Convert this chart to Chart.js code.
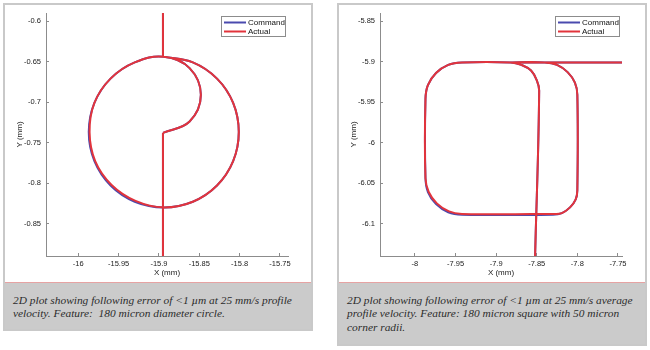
<!DOCTYPE html>
<html lang="en">
<head>
<meta charset="UTF-8">
<title>Following error</title>
<script src="https://cdn.jsdelivr.net/npm/chart.js"></script>
<style>
    body {
        margin: 0;
        width: 650px;
        height: 350px;
        position: relative;
        overflow: hidden;
        background: #fff;
    }
    .panel {
        position: absolute;
        top: 3px;
        width: 310px;
        box-sizing: border-box;
        border: 2px solid #c9c9c9;
        background: #fff;
    }
    #panelLeft { left: 3px; height: 328px; }
    #panelRight { left: 337px; height: 343px; }
    .caption {
        position: absolute;
        left: 0;
        right: 0;
        top: 277px;
        bottom: 0;
        background: #cbcbcb;
        border-top: 1px solid #e6a3a3;
        padding: 11px 0 0 8px;
        font: italic 11.4px/13.3px "Liberation Serif", "Times New Roman", serif;
        color: #2b2b2b;
        white-space: nowrap;
    }
    canvas { position: absolute; top: 0; }
    #chartLeft { left: 0; }
    #chartRight { left: 334px; }
</style>
</head>
<body>
<div class="panel" id="panelLeft">
    <div class="caption">2D plot showing following error of &lt;1 µm at 25 mm/s profile<br>velocity. Feature:&nbsp; 180 micron diameter circle.</div>
</div>
<div class="panel" id="panelRight">
    <div class="caption">2D plot showing following error of &lt;1 µm at 25 mm/s average<br>profile velocity. Feature: 180 micron square with 50 micron<br>corner radii.</div>
</div>
<canvas id="chartLeft" width="320" height="282"></canvas>
<canvas id="chartRight" width="320" height="282"></canvas>
<script>
    // circle feature: lead-in line, approach arc, full circle, lead-out line (x, y in mm)
    // null splits the path so the corners stay sharp
    const circleCommand = [
        [-15.895, -0.890], [-15.895, -0.738], null,
        [-15.895, -0.738], [-15.862, -0.724], [-15.848, -0.691], [-15.862, -0.658],
        [-15.894, -0.644], [-15.930, -0.651], [-15.960, -0.671], [-15.980, -0.701],
        [-15.987, -0.737], [-15.980, -0.773], [-15.960, -0.803], [-15.930, -0.823],
        [-15.894, -0.830], [-15.858, -0.823], [-15.828, -0.803], [-15.808, -0.773],
        [-15.801, -0.737], [-15.808, -0.701], [-15.828, -0.671], [-15.858, -0.651],
        [-15.894, -0.644], null,
        [-15.895, -0.644], [-15.895, -0.590]
    ];
    const circleActual = [
        [-15.895, -0.890], [-15.895, -0.738], null,
        [-15.895, -0.738], [-15.862, -0.724], [-15.848, -0.691], [-15.862, -0.658],
        [-15.894, -0.644], [-15.930, -0.651], [-15.960, -0.671], [-15.980, -0.701],
        [-15.986, -0.737], [-15.979, -0.773], [-15.959, -0.802], [-15.929, -0.822],
        [-15.894, -0.830], [-15.858, -0.823], [-15.828, -0.803], [-15.808, -0.773],
        [-15.801, -0.737], [-15.808, -0.701], [-15.828, -0.671], [-15.858, -0.651],
        [-15.894, -0.644], null,
        [-15.895, -0.644], [-15.895, -0.590]
    ];
    const circleXTicks = [-16, -15.95, -15.9, -15.85, -15.8, -15.75];
    const circleXLabels = ['-16', '-15.95', '-15.9', '-15.85', '-15.8', '-15.75'];
    const circleYTicks = [-0.85, -0.8, -0.75, -0.7, -0.65, -0.6];
    const circleYLabels = ['-0.85', '-0.8', '-0.75', '-0.7', '-0.65', '-0.6'];

    // rounded square: lead-in from below, loop around, lead-out along the top edge
    const squareCommand = [
        [-7.852, -6.140], [-7.847, -5.936],
        [-7.850, -5.923], [-7.857, -5.911], [-7.869, -5.904], [-7.882, -5.901],
        [-7.942, -5.901],
        [-7.959, -5.904], [-7.974, -5.914], [-7.984, -5.929], [-7.987, -5.946],
        [-7.987, -6.044],
        [-7.984, -6.061], [-7.974, -6.076], [-7.959, -6.086], [-7.942, -6.089],
        [-7.830, -6.089],
        [-7.819, -6.087], [-7.809, -6.080], [-7.802, -6.070], [-7.800, -6.059],
        [-7.800, -5.941],
        [-7.803, -5.926], [-7.812, -5.913], [-7.825, -5.904], [-7.840, -5.901],
        [-7.888, -5.901], null,
        [-7.882, -5.901], [-7.745, -5.901]
    ];
    const squareActual = [
        [-7.852, -6.140], [-7.847, -5.936],
        [-7.850, -5.923], [-7.857, -5.911], [-7.869, -5.904], [-7.882, -5.901],
        [-7.942, -5.901],
        [-7.959, -5.904], [-7.974, -5.914], [-7.984, -5.929], [-7.987, -5.946],
        [-7.987, -6.044],
        [-7.983, -6.061], [-7.973, -6.075], [-7.958, -6.085], [-7.942, -6.088],
        [-7.830, -6.088],
        [-7.819, -6.087], [-7.809, -6.080], [-7.802, -6.070], [-7.800, -6.059],
        [-7.800, -5.941],
        [-7.803, -5.926], [-7.812, -5.913], [-7.825, -5.904], [-7.840, -5.901],
        [-7.888, -5.901], null,
        [-7.882, -5.901], [-7.745, -5.901]
    ];
    const squareXTicks = [-8, -7.95, -7.9, -7.85, -7.8, -7.75];
    const squareXLabels = ['-8', '-7.95', '-7.9', '-7.85', '-7.8', '-7.75'];
    const squareYTicks = [-6.1, -6.05, -6, -5.95, -5.9, -5.85];
    const squareYLabels = ['-6.1', '-6.05', '-6', '-5.95', '-5.9', '-5.85'];

    Chart.defaults.font.family = '"Liberation Sans", Arial, sans-serif';
    Chart.defaults.font.size = 7.5;
    Chart.defaults.color = '#222';

    const axisGrey = '#8c8c8c';

    function toPoints(pairs) {
        return pairs.map(p => p ? { x: p[0], y: p[1] } : { x: null, y: null });
    }

    // legend drawn inside the plot, top right, with a frame
    const boxedLegend = {
        id: 'boxedLegend',
        afterDraw(chart) {
            const { ctx, chartArea } = chart;
            const w = 65, h = 21;
            const left = chartArea.right - 2 - w;
            const top = chartArea.top + 3;
            ctx.save();
            ctx.fillStyle = '#fff';
            ctx.fillRect(left, top, w, h);
            ctx.strokeStyle = axisGrey;
            ctx.lineWidth = 1;
            ctx.strokeRect(left + 0.5, top + 0.5, w - 1, h - 1);
            ctx.font = '8px "Liberation Sans", Arial, sans-serif';
            ctx.textBaseline = 'middle';
            chart.data.datasets.forEach((ds, i) => {
                const y = top + 6.5 + i * 9;
                ctx.strokeStyle = ds.borderColor;
                ctx.lineWidth = 2;
                ctx.beginPath();
                ctx.moveTo(left + 3, y);
                ctx.lineTo(left + 25, y);
                ctx.stroke();
                ctx.fillStyle = '#111';
                ctx.fillText(ds.label, left + 27, y);
            });
            ctx.restore();
        }
    };

    function makeChart(id, cmd, act, xRange, yRange, xTicks, xLabels, yTicks, yLabels) {
        return new Chart(document.getElementById(id), {
            type: 'scatter',
            data: {
                datasets: [{
                    label: 'Command',
                    data: toPoints(cmd),
                    showLine: true,
                    borderColor: '#4a4aae',
                    backgroundColor: '#4a4aae',
                    borderWidth: 2,
                    pointRadius: 0,
                    tension: 0.4,
                    order: 1
                }, {
                    label: 'Actual',
                    data: toPoints(act),
                    showLine: true,
                    borderColor: '#e2343c',
                    backgroundColor: '#e2343c',
                    borderWidth: 2,
                    pointRadius: 0,
                    tension: 0.4,
                    order: 0
                }]
            },
            options: {
                responsive: false,
                animation: false,
                events: [],
                layout: { padding: { left: 6, top: 13, right: 32, bottom: 2 } },
                plugins: { legend: { display: false }, tooltip: { enabled: false } },
                scales: {
                    x: {
                        type: 'linear',
                        min: xRange[0],
                        max: xRange[1],
                        border: { color: axisGrey, width: 1 },
                        grid: { drawOnChartArea: false, tickLength: -3, color: axisGrey },
                        ticks: { padding: 6, maxRotation: 0, autoSkip: false, callback: (v, i) => xLabels[i] },
                        afterBuildTicks: s => { s.ticks = xTicks.map(v => ({ value: v })); },
                        afterFit: s => { s.height = 24; },
                        title: { display: true, text: 'X (mm)', font: { size: 8 }, padding: { top: 0, bottom: 2 } }
                    },
                    y: {
                        type: 'linear',
                        min: yRange[0],
                        max: yRange[1],
                        border: { color: axisGrey, width: 1 },
                        grid: { drawOnChartArea: false, tickLength: -3, color: axisGrey },
                        ticks: { padding: 8, autoSkip: false, callback: (v, i) => yLabels[i] },
                        afterBuildTicks: s => { s.ticks = yTicks.map(v => ({ value: v })); },
                        afterFit: s => { s.width = 40; },
                        title: { display: true, text: 'Y (mm)', font: { size: 8 }, padding: { top: 8.5, bottom: 0 } }
                    }
                }
            },
            plugins: [boxedLegend]
        });
    }

    makeChart('chartLeft', circleCommand, circleActual, [-16.04, -15.74], [-0.89, -0.59],
        circleXTicks, circleXLabels, circleYTicks, circleYLabels);
    makeChart('chartRight', squareCommand, squareActual, [-8.043, -7.745], [-6.14, -5.84],
        squareXTicks, squareXLabels, squareYTicks, squareYLabels);
</script>
</body>
</html>
